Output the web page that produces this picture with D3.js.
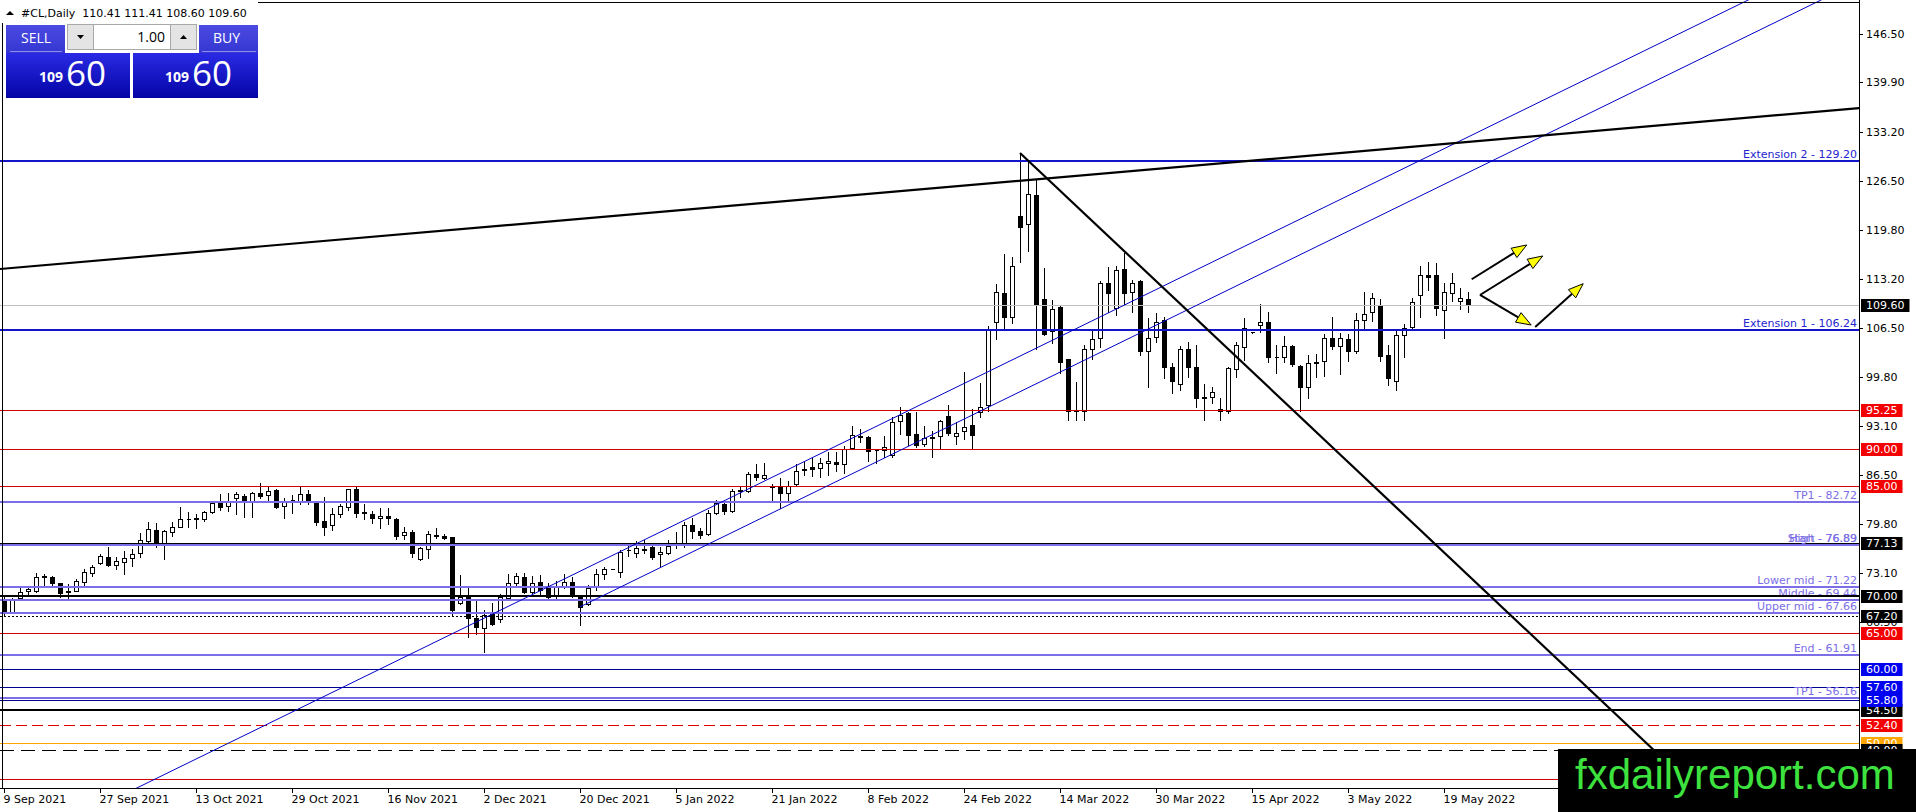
<!DOCTYPE html>
<html>
<head>
<meta charset="utf-8">
<script src="https://cdn.jsdelivr.net/npm/d3@7"></script>
<style>
  html, body { margin: 0; padding: 0; background: #fff; overflow: hidden; }
  svg { display: block; }
  text { font-family: "DejaVu Sans", sans-serif; font-size: 11px; }
</style>
</head>
<body>
<div id="chart"></div>
<script>
// ---- data ----
const symbolTitle = '#CL,Daily  110.41 111.41 108.60 109.60';
const bidBig = '60', bidSmall = '109';

// x-axis labels, placed on bar index (one bar per weekday)
const dateLabels = ['9 Sep 2021', '27 Sep 2021', '13 Oct 2021', '29 Oct 2021', '16 Nov 2021', '2 Dec 2021',
  '20 Dec 2021', '5 Jan 2022', '21 Jan 2022', '8 Feb 2022', '24 Feb 2022', '14 Mar 2022', '30 Mar 2022',
  '15 Apr 2022', '3 May 2022', '19 May 2022'];
const dateBars = [0, 12, 24, 36, 48, 60, 72, 84, 96, 108, 120, 132, 144, 156, 168, 180];

// visible scale ticks (the ones below 66.50 sit under the price boxes)
const priceTicks = [146.50, 139.90, 133.20, 126.50, 119.80, 113.20, 106.50, 99.80, 93.10, 86.50, 79.80,
  73.10, 66.50];

const opens = [69.34, 67.85, 69.66, 70.70, 70.71, 72.60, 72.56, 71.70, 70.50, 70.71, 71.93, 73.15, 74.42, 75.33,
  74.20, 74.65, 75.10, 75.80, 77.50, 78.96, 77.24, 78.65, 79.42, 80.40, 80.50, 80.46, 81.37, 82.60, 82.24, 83.28,
  83.60, 82.90, 84.05, 83.73, 84.40, 82.24, 83.10, 82.96, 83.86, 82.70, 80.24, 79.65, 81.10, 82.15, 84.50, 81.30,
  81.10, 80.60, 80.90, 80.40, 78.30, 78.70, 75.02, 76.33, 78.20, 78.20, 77.96, 69.07, 69.89, 66.94, 65.58, 67.48,
  66.80, 69.66, 71.80, 72.52, 70.57, 71.93, 71.02, 70.11, 71.34, 71.84, 69.89, 68.90, 71.34, 72.97, 73.60, 73.30,
  76.20, 75.90, 76.40, 76.60, 75.65, 75.88, 76.90, 77.15, 79.64, 78.82, 78.42, 81.23, 82.50, 81.60, 84.30, 84.32,
  86.53, 86.00, 84.90, 84.78, 84.05, 85.23, 87.20, 87.50, 87.36, 88.04, 88.27, 87.90, 90.10, 91.60, 91.66, 89.80,
  89.90, 89.18, 93.86, 94.85, 92.04, 90.67, 91.55, 91.76, 94.50, 91.76, 92.45, 93.27, 95.07, 95.98, 107.25, 111.20,
  107.90, 121.70, 120.60, 124.60, 110.40, 106.00, 109.27, 102.20, 95.30, 95.20, 103.56, 105.06, 112.64, 109.13,
  114.44, 111.40, 112.90, 103.40, 105.30, 107.50, 101.10, 98.90, 103.56, 101.10, 96.95, 97.10, 95.50, 95.20,
  100.85, 103.90, 105.90, 106.90, 107.30, 102.45, 102.50, 104.00, 101.30, 98.50, 101.70, 102.00, 105.06, 104.00,
  104.90, 103.40, 107.50, 108.60, 109.50, 102.80, 99.30, 105.50, 106.60, 110.90, 113.66, 113.70, 108.96, 111.20,
  110.20, 110.41];
const highs = [69.88, 69.66, 71.02, 71.25, 73.07, 72.98, 72.70, 71.79, 71.60, 72.34, 73.60, 74.20, 75.70, 76.60,
  75.33, 76.10, 76.40, 78.50, 80.10, 79.87, 78.96, 80.00, 82.05, 81.46, 81.10, 81.60, 82.90, 83.86, 84.00, 84.10,
  83.90, 84.10, 85.30, 84.87, 84.60, 83.30, 83.70, 84.87, 84.40, 82.96, 83.40, 81.90, 82.50, 84.60, 84.87, 82.50,
  81.50, 81.90, 81.90, 80.60, 79.40, 79.00, 76.70, 78.87, 79.20, 78.40, 78.00, 72.83, 71.10, 69.30, 68.07, 69.07,
  70.20, 72.97, 73.16, 73.16, 72.70, 72.83, 71.70, 72.00, 72.97, 72.50, 70.00, 71.48, 73.60, 73.97, 73.65, 76.20,
  76.80, 77.40, 77.60, 77.00, 76.60, 77.60, 78.73, 80.10, 80.56, 79.20, 81.70, 83.05, 82.90, 84.60, 84.87, 86.90,
  87.95, 88.10, 85.20, 86.00, 85.70, 87.95, 88.30, 88.70, 88.80, 89.60, 89.60, 90.40, 93.10, 92.70, 91.80, 90.00,
  91.76, 94.40, 95.75, 95.07, 95.07, 93.10, 92.50, 94.00, 95.98, 93.70, 100.50, 95.50, 99.00, 106.75, 112.40,
  116.50, 116.10, 130.30, 129.25, 126.60, 114.70, 110.30, 109.45, 102.30, 99.15, 104.15, 106.00, 112.80, 114.77,
  114.90, 116.70, 113.00, 113.00, 107.80, 108.50, 107.90, 101.70, 104.00, 104.60, 104.15, 98.80, 98.50, 96.90,
  101.20, 104.50, 107.80, 105.95, 109.70, 108.70, 104.15, 105.40, 104.15, 101.40, 102.80, 102.90, 105.60, 107.90,
  105.80, 105.60, 108.50, 111.30, 111.20, 110.40, 104.15, 106.20, 106.95, 110.50, 114.90, 115.50, 115.35, 112.55,
  113.90, 111.90, 111.41];
const lows = [67.40, 67.76, 69.53, 70.12, 70.57, 71.35, 71.43, 69.80, 69.66, 70.66, 71.43, 72.75, 74.34, 74.07,
  73.60, 72.97, 74.07, 75.24, 77.38, 76.70, 74.97, 78.10, 79.42, 79.42, 79.30, 80.20, 81.30, 81.70, 81.60, 81.14,
  80.70, 80.80, 83.30, 82.96, 81.90, 80.55, 81.30, 82.50, 82.50, 79.60, 78.28, 78.96, 80.80, 81.70, 80.70, 80.40,
  79.90, 79.20, 79.80, 77.70, 77.70, 75.24, 74.90, 75.20, 77.90, 77.80, 67.40, 68.90, 64.44, 64.80, 62.40, 66.00,
  66.50, 69.40, 71.25, 70.34, 70.10, 70.30, 69.66, 69.60, 71.10, 69.80, 66.03, 68.70, 70.80, 72.25, 73.60, 72.50,
  75.40, 75.25, 75.90, 75.00, 74.07, 75.70, 76.47, 76.60, 77.83, 77.83, 78.30, 81.14, 81.20, 81.40, 83.42, 84.20,
  85.80, 85.90, 82.80, 81.90, 82.80, 85.00, 86.50, 86.30, 86.20, 86.45, 87.00, 86.70, 90.00, 91.00, 88.40, 88.10,
  88.95, 88.95, 92.00, 90.50, 90.20, 90.40, 88.95, 90.10, 91.90, 90.70, 91.40, 90.10, 94.30, 95.20, 104.90, 106.20,
  107.20, 115.40, 117.00, 103.60, 105.45, 104.40, 100.40, 93.90, 94.00, 93.90, 102.30, 103.90, 108.70, 108.20,
  109.60, 108.70, 102.80, 98.50, 104.50, 99.60, 97.66, 98.00, 99.75, 95.67, 93.90, 96.30, 94.00, 94.90, 99.75,
  102.10, 105.85, 105.90, 101.87, 100.40, 101.87, 101.30, 95.20, 97.00, 99.80, 99.90, 103.56, 100.20, 102.00,
  103.00, 106.30, 107.40, 102.00, 98.70, 98.00, 102.55, 106.40, 108.00, 111.70, 108.20, 105.06, 110.20, 109.00,
  108.60];
const closes = [67.71, 69.43, 70.57, 70.90, 72.52, 72.70, 71.79, 70.34, 70.60, 72.07, 73.29, 73.88, 75.42, 74.20,
  74.79, 75.10, 75.70, 77.60, 79.06, 77.15, 78.83, 79.42, 80.42, 80.50, 80.55, 81.37, 82.60, 82.15, 82.96, 83.82,
  82.90, 84.00, 83.60, 84.32, 82.05, 82.96, 83.05, 83.86, 83.05, 80.10, 79.33, 81.14, 82.20, 84.50, 81.23, 81.35,
  80.55, 80.90, 80.55, 78.15, 78.70, 75.90, 76.47, 78.42, 78.30, 77.90, 68.07, 69.80, 66.94, 65.71, 67.39, 66.17,
  69.89, 71.70, 72.70, 70.57, 71.80, 70.80, 69.89, 71.34, 71.84, 69.98, 68.53, 71.02, 72.97, 73.70, 73.65, 76.00,
  76.25, 76.47, 76.30, 75.25, 76.00, 76.79, 77.00, 79.64, 78.87, 78.28, 81.23, 82.68, 81.60, 84.25, 84.40, 86.53,
  86.13, 86.40, 84.85, 83.96, 84.96, 87.04, 87.30, 87.22, 88.04, 88.36, 87.90, 89.95, 91.90, 91.70, 89.73, 89.85,
  90.20, 93.70, 94.60, 91.90, 90.54, 91.44, 91.65, 93.86, 92.13, 92.20, 93.04, 91.90, 95.75, 106.20, 111.30, 107.90,
  114.90, 120.26, 124.70, 109.60, 105.70, 109.10, 101.87, 95.20, 95.20, 103.56, 104.90, 112.55, 111.28, 114.35,
  111.20, 112.55, 103.40, 105.10, 107.30, 101.10, 99.30, 103.56, 101.20, 96.90, 97.05, 97.80, 95.20, 100.96,
  104.15, 106.40, 105.95, 107.30, 102.55, 102.55, 104.00, 101.60, 98.50, 101.70, 101.90, 105.06, 104.00, 105.06,
  103.40, 107.50, 108.40, 110.50, 102.60, 99.60, 105.50, 106.50, 110.00, 113.70, 113.40, 109.15, 111.40, 112.55,
  110.50, 109.60];

// horizontal objects on the chart: price, kind, object texts
const levels = [
  { p: 109.60, kind: 'bid' },
  { p: 129.20, kind: 'ext', texts: ['Extension 2 - 129.20'] },
  { p: 106.24, kind: 'ext', texts: ['Extension 1 - 106.24'] },
  { p: 95.25, kind: 'red' },
  { p: 90.00, kind: 'red' },
  { p: 85.00, kind: 'red' },
  { p: 82.72, kind: 'slate', texts: ['TP1 - 82.72'] },
  { p: 77.13, kind: 'black' },
  { p: 76.89, kind: 'slate', texts: ['Start - 76.89', 'High - 76.89'] },
  { p: 71.22, kind: 'slate', texts: ['Lower mid - 71.22'] },
  { p: 69.44, kind: 'slate', texts: ['Middle - 69.44'] },
  { p: 67.66, kind: 'slate', texts: ['Upper mid - 67.66'] },
  { p: 70.00, kind: 'blackBold' },
  { p: 67.20, kind: 'dotted' },
  { p: 65.00, kind: 'red' },
  { p: 61.91, kind: 'slate', texts: ['End - 61.91'] },
  { p: 60.00, kind: 'navy' },
  { p: 57.60, kind: 'navy' },
  { p: 56.16, kind: 'slate', texts: ['TP1 - 56.16'] },
  { p: 55.80, kind: 'navy' },
  { p: 54.50, kind: 'blackBold' },
  { p: 52.40, kind: 'redDash' },
  { p: 50.00, kind: 'orange' },
  { p: 49.00, kind: 'blackDash' },
  { p: 45.00, kind: 'red' },
];

// price labels on the right scale (drawn in this order; the 45.00 one is hidden by the watermark)
const axisBoxes = [
  { p: 109.60, kind: 'black' }, { p: 95.25, kind: 'red' }, { p: 90.00, kind: 'red' }, { p: 85.00, kind: 'red' },
  { p: 77.13, kind: 'black' }, { p: 70.00, kind: 'black' }, { p: 67.20, kind: 'black' }, { p: 65.00, kind: 'red' },
  { p: 60.00, kind: 'blue' }, { p: 57.60, kind: 'blue' }, { p: 54.50, kind: 'black' }, { p: 55.80, kind: 'blue' },
  { p: 52.40, kind: 'red' }, { p: 50.00, kind: 'orange' }, { p: 49.00, kind: 'black' },
];

// trendlines as [bar, price] pairs
const riseLine = [[-0.5, 114.5], [231.9, 136.4]];
const fallLine = [[127, 130.3], [215, 40.0]];
const channelA = [[0, 35.0], [230, 157.5]];
const channelB = [[72, 68.5], [230, 152.65]];
const arrows = [
  [[183.46, 113.1], [190.34, 117.77]],
  [[184.5, 110.96], [192.34, 116.27]],
  [[184.5, 110.96], [190.9, 106.87]],
  [[191.4, 106.6], [197.4, 112.5]],
];

// ---- layout ----
const W = 1916, H = 812;
const PLOT_RIGHT = 1859, PLOT_BOTTOM = 788;
const PRICE_MIN = 43.84, PRICE_MAX = 151.12;

const LEVEL_STYLE = {
  bid: { stroke: '#c0c0c0', width: 1 },
  ext: { stroke: '#1414c8', width: 2, text: '#2424d0' },
  red: { stroke: '#d40000', width: 1 },
  slate: { stroke: '#7b6ee6', width: 2, text: '#7b6ee6' },
  black: { stroke: '#000', width: 1 },
  blackBold: { stroke: '#000', width: 2 },
  dotted: { stroke: '#000', width: 1, dash: '2,2' },
  navy: { stroke: '#000090', width: 1 },
  redDash: { stroke: '#e00000', width: 1, dash: '11,5' },
  orange: { stroke: '#ffa500', width: 1 },
  blackDash: { stroke: '#000', width: 1, dash: '14,7' },
};
const BOX_FILL = { black: '#000', red: '#f40000', blue: '#0000f0', orange: '#ffa500' };

const x = d3.scaleLinear().domain([0, 1]).range([4, 12]);
const y = d3.scaleLinear().domain([PRICE_MIN, PRICE_MAX]).range([PLOT_BOTTOM, 0]);
const crisp = (v) => Math.round(v) + 0.5;

const svg = d3.select('#chart').append('svg')
  .attr('width', W).attr('height', H)
  .attr('viewBox', `0 0 ${W} ${H}`);

const defs = svg.append('defs');
defs.append('clipPath').attr('id', 'plot')
  .append('rect').attr('x', 0).attr('y', 0).attr('width', PLOT_RIGHT).attr('height', PLOT_BOTTOM);

function gradient(id, top, bottom) {
  const gr = defs.append('linearGradient').attr('id', id)
    .attr('x1', 0).attr('y1', 0).attr('x2', 0).attr('y2', 1);
  gr.append('stop').attr('offset', '0%').attr('stop-color', top);
  gr.append('stop').attr('offset', '100%').attr('stop-color', bottom);
}
gradient('hdr', '#4b4be2', '#3535d2');
gradient('big', '#2a2ae4', '#0404a6');

svg.append('rect').attr('width', W).attr('height', H).attr('fill', '#fff');

const plot = svg.append('g').attr('clip-path', 'url(#plot)');

// ---- candles ----
const candles = opens.map((o, i) => ({ i, o, h: highs[i], l: lows[i], c: closes[i] }));

plot.append('g').attr('class', 'wicks')
  .selectAll('line').data(candles).join('line')
  .attr('x1', (d) => crisp(x(d.i))).attr('x2', (d) => crisp(x(d.i)))
  .attr('y1', (d) => Math.round(y(d.h))).attr('y2', (d) => Math.round(y(d.l)) + 1)
  .attr('stroke', '#000').attr('stroke-width', 1).attr('shape-rendering', 'crispEdges');

plot.append('g').attr('class', 'bodies')
  .selectAll('path').data(candles).join('path')
  .attr('d', (d) => {
    const cx = Math.round(x(d.i));
    const t = crisp(y(Math.max(d.o, d.c)));
    const b = crisp(y(Math.min(d.o, d.c)));
    return `M${cx - 1.5},${t}H${cx + 2.5}V${b}H${cx - 1.5}Z`;
  })
  .attr('fill', (d) => (d.c >= d.o ? '#fff' : '#000'))
  .attr('stroke', '#000').attr('stroke-width', 1).attr('shape-rendering', 'crispEdges');

// ---- horizontal objects ----
plot.append('g').attr('class', 'levels')
  .selectAll('line').data(levels).join('line')
  .attr('x1', 0).attr('x2', PLOT_RIGHT)
  .attr('y1', (d) => (LEVEL_STYLE[d.kind].width === 1 ? crisp(y(d.p)) : Math.round(y(d.p))))
  .attr('y2', (d) => (LEVEL_STYLE[d.kind].width === 1 ? crisp(y(d.p)) : Math.round(y(d.p))))
  .attr('stroke', (d) => LEVEL_STYLE[d.kind].stroke)
  .attr('stroke-width', (d) => LEVEL_STYLE[d.kind].width)
  .attr('stroke-dasharray', (d) => LEVEL_STYLE[d.kind].dash || null)
  .attr('shape-rendering', 'crispEdges');

// ---- trendlines ----
function seg(points, stroke, width) {
  plot.append('line')
    .attr('x1', x(points[0][0])).attr('y1', y(points[0][1]))
    .attr('x2', x(points[1][0])).attr('y2', y(points[1][1]))
    .attr('stroke', stroke).attr('stroke-width', width);
}
seg(channelA, '#0000c8', 1);
seg(channelB, '#0000c8', 1);
seg(riseLine, '#000', 2.2);
seg(fallLine, '#000', 2.2);

// ---- arrows ----
const arrowG = plot.append('g').attr('class', 'arrows');
arrows.forEach(([a, b]) => {
  const x0 = x(a[0]), y0 = y(a[1]), x1 = x(b[0]), y1 = y(b[1]);
  const len = Math.hypot(x1 - x0, y1 - y0);
  const ux = (x1 - x0) / len, uy = (y1 - y0) / len;
  const bx = x1 - ux * 15, by = y1 - uy * 15;
  arrowG.append('line').attr('x1', x0).attr('y1', y0).attr('x2', bx).attr('y2', by)
    .attr('stroke', '#000').attr('stroke-width', 2);
  arrowG.append('polygon')
    .attr('points', [[x1, y1], [bx - uy * 5.5, by + ux * 5.5], [bx + uy * 5.5, by - ux * 5.5]].join(' '))
    .attr('fill', '#ffff00').attr('stroke', '#000').attr('stroke-width', 1);
});

// ---- object texts ----
const textG = svg.append('g').attr('class', 'level-texts');
levels.filter((d) => d.texts).forEach((d) => {
  d.texts.forEach((t) => {
    textG.append('text')
      .attr('x', PLOT_RIGHT - 2).attr('y', Math.round(y(d.p)) - 3)
      .attr('text-anchor', 'end')
      .attr('fill', LEVEL_STYLE[d.kind].text)
      .text(t);
  });
});
// the bold black 70.00 line runs over the "Middle" text
levels.filter((d) => d.p === 70.00).forEach((d) => {
  svg.append('line').attr('x1', 1500).attr('x2', PLOT_RIGHT)
    .attr('y1', Math.round(y(d.p))).attr('y2', Math.round(y(d.p)))
    .attr('stroke', '#000').attr('stroke-width', 2).attr('shape-rendering', 'crispEdges');
});

// ---- frame and axes ----
svg.append('line').attr('x1', 2.5).attr('x2', 2.5).attr('y1', 0).attr('y2', PLOT_BOTTOM)
  .attr('stroke', '#000').attr('shape-rendering', 'crispEdges');
svg.append('line').attr('x1', 0).attr('x2', PLOT_RIGHT).attr('y1', 2.5).attr('y2', 2.5)
  .attr('stroke', '#000').attr('shape-rendering', 'crispEdges');
svg.append('line').attr('x1', PLOT_RIGHT + 0.5).attr('x2', PLOT_RIGHT + 0.5).attr('y1', 0).attr('y2', PLOT_BOTTOM)
  .attr('stroke', '#000').attr('shape-rendering', 'crispEdges');
svg.append('line').attr('x1', 0).attr('x2', PLOT_RIGHT + 1).attr('y1', PLOT_BOTTOM + 0.5).attr('y2', PLOT_BOTTOM + 0.5)
  .attr('stroke', '#000').attr('shape-rendering', 'crispEdges');

const yAxisG = svg.append('g').attr('class', 'y-ticks');
priceTicks.forEach((p) => {
  const ty = crisp(y(p));
  yAxisG.append('line').attr('x1', PLOT_RIGHT).attr('x2', PLOT_RIGHT + 4).attr('y1', ty).attr('y2', ty)
    .attr('stroke', '#000').attr('shape-rendering', 'crispEdges');
  yAxisG.append('text').attr('x', PLOT_RIGHT + 7).attr('y', Math.round(y(p)) + 4)
    .attr('fill', '#000').text(d3.format('.2f')(p));
});

const boxG = svg.append('g').attr('class', 'price-boxes');
axisBoxes.forEach((b) => {
  const cy = Math.round(y(b.p));
  const g = boxG.append('g');
  const r = g.append('rect').attr('x', PLOT_RIGHT + 2).attr('y', cy - 6).attr('height', 13)
    .attr('fill', BOX_FILL[b.kind]);
  const t = g.append('text').attr('x', PLOT_RIGHT + 7).attr('y', cy + 4)
    .attr('fill', '#fff').text(d3.format('.2f')(b.p));
  r.attr('width', t.node().getComputedTextLength() + 10);
});

const xAxisG = svg.append('g').attr('class', 'x-ticks');
dateBars.forEach((bar, k) => {
  const tx = crisp(x(bar));
  xAxisG.append('line').attr('x1', tx).attr('x2', tx).attr('y1', PLOT_BOTTOM).attr('y2', PLOT_BOTTOM + 5)
    .attr('stroke', '#000').attr('shape-rendering', 'crispEdges');
  xAxisG.append('text').attr('x', Math.max(1, tx - 1)).attr('y', PLOT_BOTTOM + 15)
    .attr('fill', '#000').text(dateLabels[k]);
});

// ---- title and one-click panel ----
svg.append('rect').attr('x', 0).attr('y', 0).attr('width', 258).attr('height', 23).attr('fill', '#fff');
svg.append('polygon').attr('points', '6,15 14,15 10,11').attr('fill', '#000');
svg.append('text').attr('x', 21).attr('y', 17).attr('fill', '#000').attr('xml:space', 'preserve').text(symbolTitle);

const panel = svg.append('g').attr('class', 'panel');
panel.append('rect').attr('x', 3).attr('y', 23).attr('width', 256).attr('height', 77).attr('fill', '#fff');
panel.append('rect').attr('x', 6).attr('y', 25).attr('width', 59).attr('height', 28).attr('fill', 'url(#hdr)');
panel.append('rect').attr('x', 199).attr('y', 25).attr('width', 59).attr('height', 28).attr('fill', 'url(#hdr)');
panel.append('rect').attr('x', 6).attr('y', 53).attr('width', 124).attr('height', 45).attr('fill', 'url(#big)');
panel.append('rect').attr('x', 133).attr('y', 53).attr('width', 125).attr('height', 45).attr('fill', 'url(#big)');
panel.append('line').attr('x1', 10).attr('x2', 62).attr('y1', 51.5).attr('y2', 51.5).attr('stroke', '#8c8cf0');
panel.append('line').attr('x1', 202).attr('x2', 256).attr('y1', 51.5).attr('y2', 51.5).attr('stroke', '#8c8cf0');

panel.append('rect').attr('x', 67.5).attr('y', 24.5).attr('width', 26).attr('height', 25)
  .attr('fill', '#e4e4e4').attr('stroke', '#a8a8a8');
panel.append('rect').attr('x', 93.5).attr('y', 24.5).attr('width', 77).attr('height', 25)
  .attr('fill', '#fff').attr('stroke', '#a8a8a8');
panel.append('rect').attr('x', 170.5).attr('y', 24.5).attr('width', 26).attr('height', 25)
  .attr('fill', '#e4e4e4').attr('stroke', '#a8a8a8');
panel.append('polygon').attr('points', '77,35 84,35 80.5,39').attr('fill', '#000');
panel.append('polygon').attr('points', '180,39 187,39 183.5,35').attr('fill', '#000');

const pf = '"Open Sans", "Noto Sans", sans-serif';
panel.append('text').attr('x', 165).attr('y', 42).attr('text-anchor', 'end')
  .style('font-family', pf).style('font-size', '14px').attr('fill', '#000').text('1.00');
panel.append('text').attr('x', 21).attr('y', 43).style('font-family', pf).style('font-size', '14px')
  .attr('fill', '#fff').text('SELL');
panel.append('text').attr('x', 213).attr('y', 43).style('font-family', pf).style('font-size', '14px')
  .attr('fill', '#fff').text('BUY');
[[39, 66], [165, 192]].forEach(([sx, bx]) => {
  panel.append('text').attr('x', sx).attr('y', 82).style('font-family', pf).style('font-size', '14px')
    .style('font-weight', 'bold').attr('fill', '#fff').text(bidSmall);
  panel.append('text').attr('x', bx).attr('y', 86).style('font-family', pf).style('font-size', '35px')
    .attr('fill', '#fff').text(bidBig);
});

// ---- watermark ----
svg.append('rect').attr('x', 1558).attr('y', 749).attr('width', W - 1558).attr('height', H - 749).attr('fill', '#000');
svg.append('text').attr('x', 1575).attr('y', 789)
  .style('font-family', '"Liberation Sans", Arial, sans-serif').style('font-size', '42px')
  .attr('fill', '#3ee23e').text('fxdailyreport.com');
</script>
</body>
</html>
